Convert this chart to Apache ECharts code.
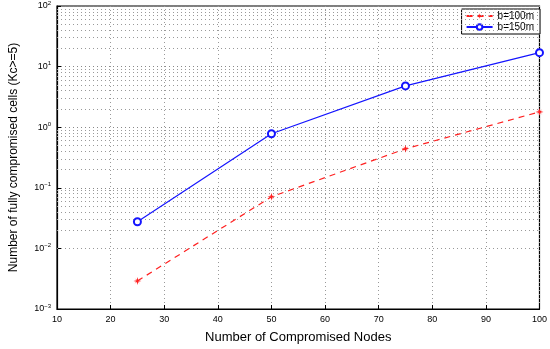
<!DOCTYPE html>
<html><head><meta charset="utf-8">
<script src="https://cdn.jsdelivr.net/npm/echarts@6/dist/echarts.min.js"></script>
<style>html,body{margin:0;padding:0;background:#fff}#c{width:550px;height:349px}</style>
</head><body><div id="c"></div>
<script>
var nodes = [25, 50, 75, 100];
var b100 = [0.0029, 0.071, 0.44, 1.79];
var b150 = [0.0275, 0.78, 4.8, 17];
var xTicks = [10, 20, 30, 40, 50, 60, 70, 80, 90, 100];
var decades = [-3, -2, -1, 0, 1];
var minorMult = [2, 3, 4, 5, 6, 7, 8, 9];

var minorLines = [];
decades.forEach(function (d) {
  minorMult.forEach(function (m) { minorLines.push({ yAxis: m * Math.pow(10, d) }); });
});

var starPath = 'path://M5,0 L6,4 L10,5 L6,6 L5,10 L4,6 L0,5 L4,4 Z M1.5,1.5 L5.5,4.5 L8.5,1.5 L5.5,5.5 L8.5,8.5 L4.5,5.5 L1.5,8.5 L4.5,4.5 Z';
var font = 'Liberation Sans, Arial, Helvetica, sans-serif';
var chart = echarts.init(document.getElementById('c'));
chart.setOption({
  animation: false,
  grid: { left: 57, right: 7, top: 6, bottom: 37, show: true, borderColor: '#000', borderWidth: 1.2 },
  legend: {
    right: 10, top: 9, orient: 'vertical', itemGap: 1, itemWidth: 26, itemHeight: 7,
    backgroundColor: '#fff', borderColor: '#000', borderWidth: 1, padding: [2, 6, 2, 4],
    textStyle: { fontFamily: font, fontSize: 10, color: '#000' },
    data: ['b=100m', 'b=150m']
  },
  xAxis: {
    type: 'value', min: 10, max: 100, interval: 10,
    name: 'Number of Compromised Nodes', nameLocation: 'middle', nameGap: 22,
    nameTextStyle: { fontFamily: font, fontSize: 13, color: '#000' },
    axisLine: { lineStyle: { color: '#000', width: 1.2 } },
    axisTick: { inside: true, length: 4, lineStyle: { color: '#000' } },
    axisLabel: { fontFamily: font, fontSize: 9, color: '#000', margin: 6 },
    splitLine: { show: true, lineStyle: { color: '#999', type: [1, 3], width: 1 } }
  },
  yAxis: {
    type: 'log', logBase: 10, min: 0.001, max: 100,
    name: 'Number of fully compromised cells (Kc>=5)', nameLocation: 'middle', nameGap: 37,
    nameTextStyle: { fontFamily: font, fontSize: 12, color: '#000' },
    axisLine: { lineStyle: { color: '#000', width: 1.2 } },
    axisTick: { inside: true, length: 4, lineStyle: { color: '#000' } },
    axisLabel: {
      fontFamily: font, color: '#000', margin: 6,
      formatter: function (v) {
        var e = Math.round(Math.log10(v));
        return '{b|10}{s|' + (e < 0 ? '\u2212' + (-e) : e) + '}';
      },
      rich: {
        b: { fontFamily: font, fontSize: 9, color: '#000' },
        s: { fontFamily: font, fontSize: 6, color: '#000', verticalAlign: 'top', padding: [0, 0, 6, 0] }
      }
    },
    splitLine: { show: true, lineStyle: { color: '#888', type: [1, 3], width: 1 } }
  },
  series: [
    {
      name: 'grid-minor', type: 'line', data: [], silent: true,
      markLine: {
        silent: true, symbol: 'none', label: { show: false },
        lineStyle: { color: '#999', type: [1, 3], width: 1 },
        emphasis: { disabled: true },
        data: minorLines
      }
    },
    {
      name: 'b=100m', type: 'line',
      data: nodes.map(function (n, i) { return [n, b100[i]]; }),
      symbol: starPath, symbolSize: 8,
      itemStyle: { color: '#ff2020' },
      lineStyle: { color: '#ff2020', type: [6, 5], width: 1.2 },
      z: 5
    },
    {
      name: 'b=150m', type: 'line',
      data: nodes.map(function (n, i) { return [n, b150[i]]; }),
      symbol: 'emptyCircle', symbolSize: 7,
      itemStyle: { color: '#1515ff', borderWidth: 1 },
      lineStyle: { color: '#1515ff', width: 1.2 },
      z: 5
    }
  ]
});
</script></body></html>
